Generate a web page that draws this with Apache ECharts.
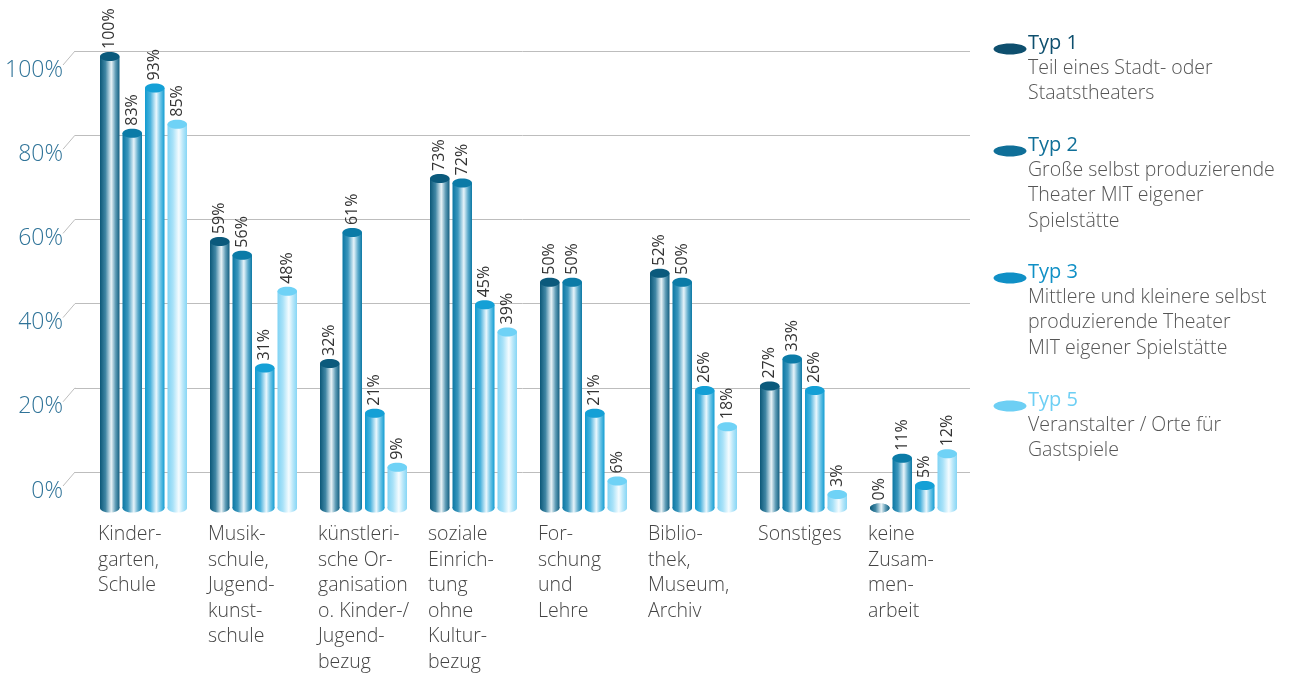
<!DOCTYPE html>
<html><head><meta charset="utf-8">
<script src="https://cdn.jsdelivr.net/npm/echarts@6/dist/echarts.min.js"></script>
<style>html,body{margin:0;padding:0;background:#fff}#c{width:1298px;height:675px}</style>
</head><body><div id="c"></div>
<script>
const categories = ['Kinder-\ngarten,\nSchule','Musik-\nschule,\nJugend-\nkunst-\nschule','künstleri-\nsche Or-\nganisation\no. Kinder-/\nJugend-\nbezug','soziale\nEinrich-\ntung\nohne\nKultur-\nbezug','For-\nschung\nund\nLehre','Biblio-\nthek,\nMuseum,\nArchiv','Sonstiges','keine\nZusam-\nmen-\narbeit'];
const seriesNames = ['Typ 1','Typ 2','Typ 3','Typ 5'];
const seriesDesc = ['Teil eines Stadt- oder\nStaatstheaters','Große selbst produzierende\nTheater MIT eigener\nSpielstätte','Mittlere und kleinere selbst\nproduzierende Theater\nMIT eigener Spielstätte','Veranstalter / Orte für\nGastspiele'];
const typ1 = [100, 59, 32, 73, 50, 52, 27, 0];
const typ2 = [83, 56, 61, 72, 50, 50, 33, 11];
const typ3 = [93, 31, 21, 45, 21, 26, 26, 5];
const typ5 = [85, 48, 9, 39, 6, 18, 3, 12];
const gridTicks = [0, 20, 40, 60, 80, 100];

const FONT = 'Open Sans';
const capColors = ['#0b5a7c', '#0b7ba7', '#14a0d6', '#6fd2f6'];
const legendColors = ['#0e4f6e', '#0f6f98', '#1090c6', '#6dcff4'];
const grads = [
  ['#0b5878', '#3f86a4', '#e8f3f7', '#5d9bb5', '#135f80'],
  ['#0a77a3', '#3d97bd', '#e6f4fa', '#5aaacb', '#0c78a4'],
  ['#109bd0', '#4cb3dd', '#eaf7fd', '#6ac3e6', '#139dd2'],
  ['#80d3f4', '#a9e2f8', '#f5fcff', '#b5e6f9', '#86d6f5']
];
function grad(s) {
  const g = grads[s];
  return {type: 'linear', x: 0, y: 0, x2: 1, y2: 0, colorStops: [
    {offset: 0, color: g[0]}, {offset: 0.28, color: g[1]}, {offset: 0.58, color: g[2]},
    {offset: 0.8, color: g[3]}, {offset: 1, color: g[4]}]};
}
const allData = [typ1, typ2, typ3, typ5];

function barRender(s) {
  return function (params, api) {
    const i = api.value(0), v = api.value(1);
    const top = api.coord([i, v]);
    const base = api.coord([i, 0]);
    const band = api.size([1, 0])[0];
    const w = band * 19.5 / 110;
    const pitch = band * 22.5 / 110;
    const cx = top[0] + (s - 1.5) * pitch;
    const ry = 4.5;
    return {type: 'group', children: [
      {type: 'ellipse', shape: {cx: cx, cy: base[1], rx: w / 2, ry: ry}, style: {fill: grad(s)}},
      {type: 'rect', shape: {x: cx - w / 2, y: top[1], width: w, height: base[1] - top[1]}, style: {fill: grad(s)}},
      {type: 'ellipse', shape: {cx: cx, cy: top[1], rx: w / 2, ry: ry}, style: {fill: v === 0 ? grad(s) : capColors[s]}},
      {type: 'text', x: cx, y: top[1] - ry - 3, rotation: Math.PI / 2,
        style: {text: v + '%', align: 'left', verticalAlign: 'middle', fontFamily: FONT, fontSize: 16, fill: '#333'}}
    ]};
  };
}

const series = allData.map((arr, s) => ({
  name: seriesNames[s], type: 'custom', xAxisIndex: 1, yAxisIndex: 1, clip: false,
  renderItem: barRender(s), data: arr.map((v, i) => [i, v])
}));
series.unshift({
  type: 'custom', xAxisIndex: 0, yAxisIndex: 0, clip: false, silent: true,
  renderItem: function (params, api) {
    const p = api.coord([0, api.value(1)]);
    return {type: 'line', shape: {x1: p[0], y1: p[1], x2: p[0] - 12, y2: p[1] + 14}, style: {stroke: '#bdbdbd', lineWidth: 1}};
  },
  data: gridTicks.map(t => [0, t])
});

const graphics = [];
const legendTops = [43, 145, 272, 400];
seriesNames.forEach((n, s) => {
  const y = legendTops[s];
  graphics.push({type: 'ellipse', shape: {cx: 1010, cy: y + 6, rx: 16.5, ry: 5.5}, style: {fill: legendColors[s]}});
  graphics.push({type: 'text', x: 1028, y: y, style: {text: n, fontFamily: FONT, fontSize: 20, fill: legendColors[s], verticalAlign: 'middle'}});
  graphics.push({type: 'text', x: 1028, y: y + 12.5, style: {text: seriesDesc[s], fontFamily: FONT, fontSize: 19.5, fontWeight: 300, lineHeight: 25.5, fill: '#555', verticalAlign: 'top'}});
});

const chart = echarts.init(document.getElementById('c'));
chart.setOption({
  animation: false,
  grid: [
    {left: 75, right: 328, top: 51, bottom: 203},
    {left: 88.5, right: 329.5, top: 56.5, bottom: 167}
  ],
  xAxis: [
    {type: 'value', gridIndex: 0, min: 0, max: 1, show: false},
    {type: 'category', gridIndex: 1, data: categories, axisLine: {show: false}, axisTick: {show: false},
      axisLabel: {interval: 0, margin: 14, align: 'center', formatter: v => v.split('\n').map(l => '{a|' + l + '}').join('\n'),
        rich: {a: {width: 91, align: 'left', fontFamily: FONT, fontSize: 19.5, fontWeight: 300, lineHeight: 25.5, color: '#444'}}}}
  ],
  yAxis: [
    {type: 'value', gridIndex: 0, min: 0, max: 100, interval: 20, axisLine: {show: false}, axisTick: {show: false},
      splitLine: {lineStyle: {color: '#bdbdbd', width: 1}},
      axisLabel: {formatter: v => '\n' + v + '%', margin: 12, lineHeight: 38, fontFamily: FONT, fontSize: 23, fontWeight: 300, color: '#2f7398'}},
    {type: 'value', gridIndex: 1, min: 0, max: 100, show: false}
  ],
  graphic: graphics,
  series: series
});
</script></body></html>
